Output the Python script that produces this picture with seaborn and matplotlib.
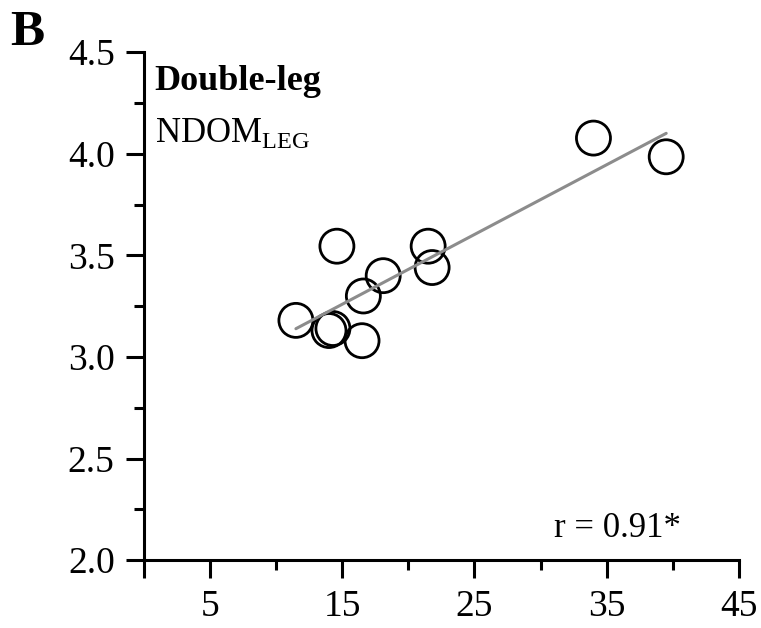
import numpy as np
import pandas as pd
import matplotlib.pyplot as plt
import seaborn as sns
from matplotlib.ticker import MultipleLocator, FixedLocator

# values
x_vals = [11.5, 14.0, 14.3, 14.6, 16.5, 16.6, 18.1, 21.5, 21.8, 34.0, 39.5]
y_vals = [3.18, 3.13, 3.14, 3.545, 3.08, 3.30, 3.40, 3.545, 3.44, 4.077, 3.985]
x_major = [0, 5, 15, 25, 35, 45]
x_major_labels = ['', '5', '15', '25', '35', '45']
x_minor = [10, 20, 30, 40]
panel_label = 'B'
title_text = 'Double-leg'
subtitle_text = r'NDOM$_{\mathrm{LEG}}$'
r_text = 'r = 0.91*'

sns.set_style('ticks')
plt.rcParams['font.family'] = ['Liberation Serif', 'DejaVu Serif']
plt.rcParams['mathtext.fontset'] = 'custom'
plt.rcParams['mathtext.rm'] = 'Liberation Serif'
plt.rcParams['text.color'] = 'black'

df = pd.DataFrame({'x': x_vals, 'y': y_vals})

fig = plt.figure(figsize=(7.61, 6.28), dpi=100)
ax = fig.add_axes([0.189, 0.108, 0.782, 0.809])

sns.regplot(data=df, x='x', y='y', scatter=False, ci=None, ax=ax,
            line_kws={'color': '#8c8c8c', 'lw': 2.2, 'zorder': 3})
sns.scatterplot(data=df, x='x', y='y', ax=ax, s=600, facecolor='none',
                edgecolor='black', linewidth=2.0, zorder=2, legend=False)

ax.set_xlim(0, 45)
ax.set_ylim(2.0, 4.5)
ax.xaxis.set_major_locator(FixedLocator(x_major))
ax.set_xticklabels(x_major_labels)
ax.xaxis.set_minor_locator(FixedLocator(x_minor))
ax.yaxis.set_major_locator(MultipleLocator(0.5))
ax.yaxis.set_minor_locator(MultipleLocator(0.25))
ax.yaxis.set_major_formatter(plt.FormatStrFormatter('%.1f'))

for side in ['top', 'right']:
    ax.spines[side].set_visible(False)
for side in ['left', 'bottom']:
    ax.spines[side].set_linewidth(2.2)
    ax.spines[side].set_color('black')

ax.tick_params(which='major', direction='out', length=13, width=2.2,
               labelsize=27, colors='black', pad=8)
ax.tick_params(which='minor', direction='out', length=7, width=2.2,
               colors='black')
ax.set_xlabel('')
ax.set_ylabel('')

fig.text(0.013, 0.928, panel_label, fontsize=37, fontweight='bold')
ax.text(0.018, 0.975, title_text, transform=ax.transAxes, fontsize=26,
        fontweight='bold', va='top')
ax.text(0.018, 0.875, subtitle_text, transform=ax.transAxes, fontsize=25,
        va='top')
ax.text(0.69, 0.045, r_text, transform=ax.transAxes, fontsize=25)

fig.savefig('out.png', dpi=100)
